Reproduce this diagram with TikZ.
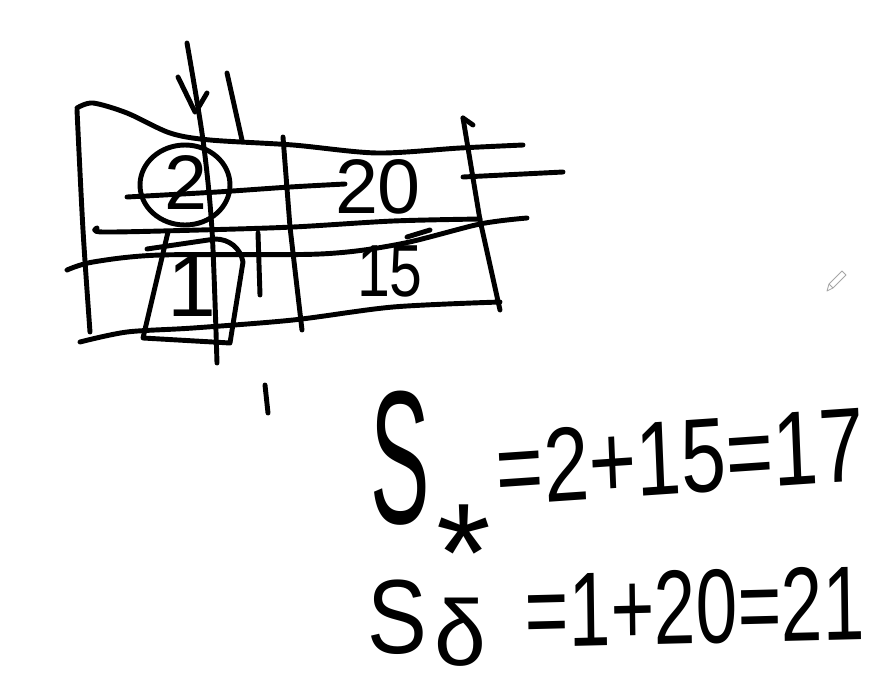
\documentclass[tikz,border=0pt]{standalone}
\usepackage{fontspec}
\setmainfont{Liberation Sans}
\begin{document}
\begin{tikzpicture}[
        x=0.02cm, y=-0.02cm,
        pen/.style={line width=2.8pt, line cap=round, line join=round},
        hand/.style={inner sep=0pt, font=\fontsize{#1}{#1}\selectfont},
        pencil/.style={draw=gray!70, line width=0.5pt, line join=round},
        ]
        \useasboundingbox (0,0) rectangle (877,684);

        % Table: outer border
        \draw[pen] plot[smooth] coordinates {(77,108) (93,103) (127,113) (170,133) (210,140) (293,145) (377,153) (460,148) (523,145)};
        \draw[pen] plot[smooth] coordinates {(77,110) (83,230) (90,332)};
        \draw[pen] plot[smooth] coordinates {(80,342) (127,332) (193,328) (293,320) (393,307) (500,302)};
        \draw[pen] (463,118) -- (473,125);
        \draw[pen] (463,118) -- (480,220) -- (500,310);

        % Table: column lines
        \draw[pen] (283,137) -- (290,227) -- (302,330);
        \draw[pen] plot[smooth] coordinates {(187,43) (203,140) (212,230) (217,363)};
        \draw[pen] (178,77) -- (195,112);
        \draw[pen] (207,93) -- (197,110);
        \draw[pen] (227,73) -- (242,140);
        \draw[pen] (258,233) -- (260,295);

        % Table: row lines
        \draw[pen] plot[smooth] coordinates {(127,197) (217,192) (290,187) (345,184)};
        \draw[pen] (463,177) -- (563,172);
        \draw[pen] plot[smooth] coordinates {(97,228) (103,232) (200,230) (293,227) (393,221) (480,219)};
        \draw[pen] plot[smooth] coordinates {(67,270) (93,262) (160,255) (320,254) (400,244) (480,224) (527,218)};
        \draw[pen] (407,237) -- (430,230);

        % Marks round the chosen cells
        \draw[pen] (185,185) ellipse [x radius=0.9cm, y radius=0.8cm];
        \draw[pen] (168,232) -- (143,338) -- (230,343) -- (243,262)
            to[out=100, in=0] (215,239) -- (147,249);
        \draw[pen] (265,385) -- (268,413);

        % Cell values
        \node[hand=44] (circled) at (186,183) {2};
        \node[hand=44] (twenty) at (378,187) {20};
        \node[hand=42, xscale=0.8] (fifteen) at (390,271) {15};
        \node[hand=50] (one) at (192,286) {1};

        % Sums
        \node[hand=108, xscale=0.47] (sstar) at (400,458) {S};
        \node[hand=80, anchor=north, text height=58pt, text depth=-35pt] (star) at (464,499) {*};
        \node[hand=60, xscale=0.77, rotate=3] (sumstar) at (680,457) {=2+15=17};
        \node[hand=60, xscale=0.85] (sdelta) at (397,617) {S};
        \node[hand=53] (delta) at (460,632) {δ};
        \node[hand=60, xscale=0.71, rotate=1] (sumdelta) at (695,607) {=1+20=21};

        % Pen cursor
        \draw[pencil] (827,291) -- (829,284) -- (842,271) -- (846,275) -- (833,288) -- cycle;
        \draw[pencil] (829,284) -- (833,288);
    \end{tikzpicture}
\end{document}
